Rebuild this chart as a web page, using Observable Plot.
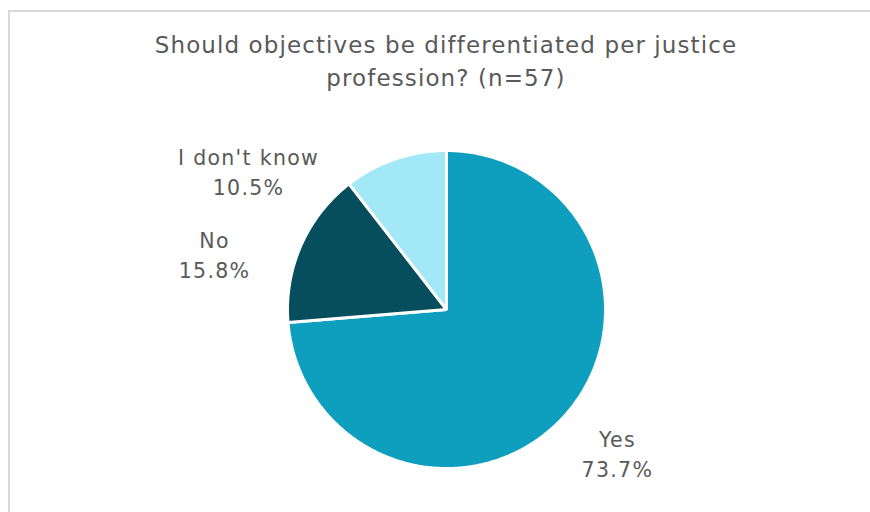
<!DOCTYPE html>
<html>
<head>
<meta charset="utf-8">
<script src="https://cdn.jsdelivr.net/npm/d3@7"></script>
<script src="https://cdn.jsdelivr.net/npm/@observablehq/plot@0.6"></script>
<style>
  html, body { margin: 0; padding: 0; background: #fff; }
  #page { position: relative; width: 870px; height: 512px; overflow: hidden; }
  #frame { position: absolute; left: 8px; top: 10px; width: 900px; height: 600px;
           border-top: 2px solid #d9d9d9; border-left: 2px solid #d9d9d9; box-sizing: border-box; }
  #title { position: absolute; left: 0; top: 29px; width: 892px; text-align: center;
           font-family: "DejaVu Sans", Verdana, sans-serif;
           font-size: 23px; letter-spacing: 1.1px; line-height: 33px; color: #595959; }
  #chart { position: absolute; left: 0; top: 100px; }
  #chart text { letter-spacing: 1.3px; }
</style>
</head>
<body>
<div id="page">
  <div id="frame"></div>
  <div id="title">Should objectives be differentiated per justice<br>profession? (n=57)</div>
  <div id="chart"></div>
</div>
<script>
// ---- data ----
const categories = ["Yes", "No", "I don't know"];
const percents = [73.7, 15.8, 10.5];
const colors = ["#0f9fbe", "#064e5e", "#a3e8f7"];

// ---- layout (label anchors in pie-radius units, not data) ----
const labelAnchors = {
  "Yes": [1.075, -0.90],
  "No": [-1.459, 0.352],
  "I don't know": [-1.245, 0.874]
};

const W = 870, H = 412;
const R = 159;          // pie radius in px
const cx = 446, cy = 209; // pie centre in svg px

const pie = d3.pie().sort(null).value(d => d.value)(
  categories.map((c, i) => ({cat: c, value: percents[i]}))
);

// slice outlines in unit-radius coordinates (y up)
const rows = [];
for (const a of pie) {
  const cat = a.data.cat;
  rows.push({cat, x: 0, y: 0});
  const n = Math.max(8, Math.ceil((a.endAngle - a.startAngle) / 0.01));
  for (let k = 0; k <= n; k++) {
    const t = a.startAngle + (a.endAngle - a.startAngle) * k / n;
    rows.push({cat, x: Math.sin(t), y: Math.cos(t)});
  }
}

const labels = categories.map((c, i) => ({
  cat: c,
  text: `${c}\n${percents[i].toFixed(1)}%`,
  x: labelAnchors[c][0],
  y: labelAnchors[c][1]
}));

const chart = Plot.plot({
  width: W,
  height: H,
  margin: 0,
  style: {background: "transparent", overflow: "visible"},
  x: {domain: [-cx / R, (W - cx) / R], axis: null},
  y: {domain: [-(H - cy) / R, cy / R], axis: null},
  color: {domain: categories, range: colors},
  marks: [
    Plot.line(rows, {
      x: "x", y: "y", z: "cat", fill: "cat",
      stroke: "white", strokeWidth: 3, strokeLinejoin: "miter",
      curve: "linear-closed"
    }),
    Plot.text(labels, {
      x: "x", y: "y", text: "text",
      fontSize: 20.5, lineHeight: 1.46,
      fontFamily: "DejaVu Sans, Verdana, sans-serif",
      fill: "#595959"
    })
  ]
});
document.getElementById("chart").appendChild(chart);
</script>
</body>
</html>
